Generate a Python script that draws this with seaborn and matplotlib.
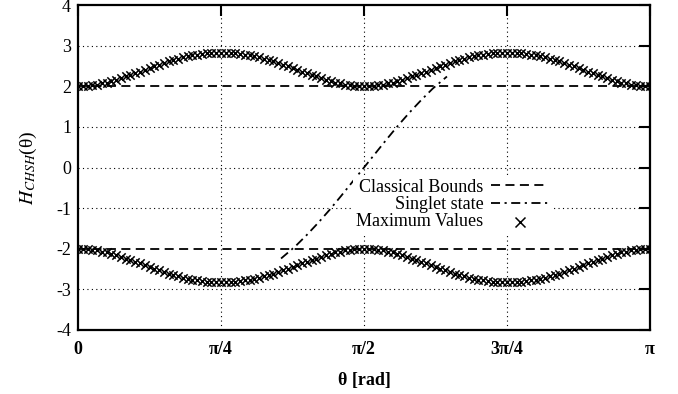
import numpy as np
import pandas as pd
import matplotlib
matplotlib.use("Agg")
import matplotlib.pyplot as plt
import seaborn as sns

# ---------------- data ----------------
# sample angles (fractions of pi) for the "Maximum Values" markers
theta_max_frac = [k / 120 for k in range(121)]
max_upper = [2.00, 2.00, 2.01, 2.02, 2.04, 2.07, 2.09, 2.12, 2.16, 2.20,
             2.24, 2.28, 2.32, 2.36, 2.41, 2.45, 2.49, 2.53, 2.57, 2.61,
             2.65, 2.68, 2.71, 2.74, 2.76, 2.78, 2.80, 2.81, 2.82, 2.83,
             2.83,
             2.83, 2.82, 2.81, 2.80, 2.78, 2.76, 2.74, 2.71, 2.68, 2.65,
             2.61, 2.57, 2.53, 2.49, 2.45, 2.41, 2.36, 2.32, 2.28, 2.24,
             2.20, 2.16, 2.12, 2.09, 2.07, 2.04, 2.02, 2.01, 2.00, 2.00,
             2.00, 2.01, 2.02, 2.04, 2.07, 2.09, 2.12, 2.16, 2.20, 2.24,
             2.28, 2.32, 2.36, 2.41, 2.45, 2.49, 2.53, 2.57, 2.61, 2.65,
             2.68, 2.71, 2.74, 2.76, 2.78, 2.80, 2.81, 2.82, 2.83, 2.83,
             2.83, 2.82, 2.81, 2.80, 2.78, 2.76, 2.74, 2.71, 2.68, 2.65,
             2.61, 2.57, 2.53, 2.49, 2.45, 2.41, 2.36, 2.32, 2.28, 2.24,
             2.20, 2.16, 2.12, 2.09, 2.07, 2.04, 2.02, 2.01, 2.00, 2.00]
max_lower = [-2.00, -2.00, -2.01, -2.02, -2.04, -2.07, -2.09, -2.12, -2.16, -2.20,
             -2.24, -2.28, -2.32, -2.36, -2.41, -2.45, -2.49, -2.53, -2.57, -2.61,
             -2.65, -2.68, -2.71, -2.74, -2.76, -2.78, -2.80, -2.81, -2.82, -2.83,
             -2.83,
             -2.83, -2.82, -2.81, -2.80, -2.78, -2.76, -2.74, -2.71, -2.68, -2.65,
             -2.61, -2.57, -2.53, -2.49, -2.45, -2.41, -2.36, -2.32, -2.28, -2.24,
             -2.20, -2.16, -2.12, -2.09, -2.07, -2.04, -2.02, -2.01, -2.00, -2.00,
             -2.00, -2.01, -2.02, -2.04, -2.07, -2.09, -2.12, -2.16, -2.20, -2.24,
             -2.28, -2.32, -2.36, -2.41, -2.45, -2.49, -2.53, -2.57, -2.61, -2.65,
             -2.68, -2.71, -2.74, -2.76, -2.78, -2.80, -2.81, -2.82, -2.83, -2.83,
             -2.83, -2.82, -2.81, -2.80, -2.78, -2.76, -2.74, -2.71, -2.68, -2.65,
             -2.61, -2.57, -2.53, -2.49, -2.45, -2.41, -2.36, -2.32, -2.28, -2.24,
             -2.20, -2.16, -2.12, -2.09, -2.07, -2.04, -2.02, -2.01, -2.00, -2.00]

# singlet state curve (fractions of pi)
theta_singlet_frac = [0.355, 0.38, 0.40, 0.42, 0.44, 0.46, 0.48, 0.50,
                      0.52, 0.54, 0.56, 0.58, 0.60, 0.62, 0.645]
singlet = [-2.24, -1.94, -1.66, -1.36, -1.04, -0.70, -0.35, 0.00,
           0.35, 0.70, 1.04, 1.36, 1.66, 1.94, 2.24]

classical_bounds = [2, -2]

xtick_frac = [0, 0.25, 0.5, 0.75, 1.0]
xtick_labels = ["0", "π/4", "π/2", "3π/4", "π"]
yticks = [-4, -3, -2, -1, 0, 1, 2, 3, 4]

# ---------------- style ----------------
sns.set_style("white")
plt.rcParams["font.family"] = ["Liberation Serif", "DejaVu Serif"]
plt.rcParams["mathtext.fontset"] = "stix"
plt.rcParams["axes.unicode_minus"] = False
for key in ["text.color", "axes.labelcolor", "xtick.color", "ytick.color",
            "xtick.labelcolor", "ytick.labelcolor"]:
    plt.rcParams[key] = "black"

df_up = pd.DataFrame({"theta": np.array(theta_max_frac) * np.pi, "H": max_upper})
df_lo = pd.DataFrame({"theta": np.array(theta_max_frac) * np.pi, "H": max_lower})
df_s = pd.DataFrame({"theta": np.array(theta_singlet_frac) * np.pi, "H": singlet})

fig = plt.figure(figsize=(6.78, 3.94), dpi=100)
ax = fig.add_axes([78 / 678, 1 - 330 / 394, (650 - 78) / 678, (330 - 5) / 394])

# grid (dotted), skipping lines hidden under the classical bounds
xt = np.array(xtick_frac) * np.pi
for x in xt[1:-1]:
    ax.axvline(x, color="black", lw=0.8, ls=(0, (1, 3)), zorder=1)
for y in yticks[1:-1]:
    if y in classical_bounds:
        continue
    ax.axhline(y, color="black", lw=0.8, ls=(0, (1, 3)), zorder=1)

# classical bounds
for i, b in enumerate(classical_bounds):
    ax.axhline(b, color="black", lw=1.3, ls=(0, (5, 3)), zorder=2,
               label="Classical Bounds" if i == 0 else None)

# singlet
sns.lineplot(data=df_s, x="theta", y="H", ax=ax, color="black", lw=1.3,
             linestyle=(0, (5, 2.5, 1.2, 2.5)), label="Singlet state", zorder=3)

# maximum values
sns.scatterplot(data=df_up, x="theta", y="H", ax=ax, marker="x", color="black",
                s=36, linewidth=1.1, label="Maximum Values", zorder=4)
sns.scatterplot(data=df_lo, x="theta", y="H", ax=ax, marker="x", color="black",
                s=36, linewidth=1.1, zorder=4)

ax.set_xlim(0, np.pi)
ax.set_ylim(-4, 4)
ax.set_xticks(xt)
ax.set_xticklabels(xtick_labels, fontweight="bold", fontsize=13)
ax.set_yticks(yticks)
ax.set_yticklabels([str(v) for v in yticks], fontsize=13)
ax.tick_params(direction="in", length=8, width=1.5, top=True, right=True,
               colors="black")
ax.tick_params(axis="x", pad=8)
ax.tick_params(axis="y", pad=5)
for s in ax.spines.values():
    s.set_linewidth(1.6)
    s.set_color("black")

ax.set_xlabel("θ [rad]", fontweight="bold", fontsize=13, labelpad=10)
ax.set_ylabel("$H_{CHSH}$(θ)", fontsize=14, labelpad=12)

leg = ax.legend(loc="upper right", bbox_to_anchor=(552 / 678, 1 - 175 / 394),
                bbox_transform=fig.transFigure, markerfirst=False, fontsize=13,
                frameon=True, facecolor="white", edgecolor="none", framealpha=1,
                borderpad=0.2, handlelength=3.2, handletextpad=0.4,
                labelspacing=0.02, borderaxespad=0, fancybox=False,
                markerscale=1.2)
leg.set_zorder(10)

fig.savefig("out.png", dpi=100)
